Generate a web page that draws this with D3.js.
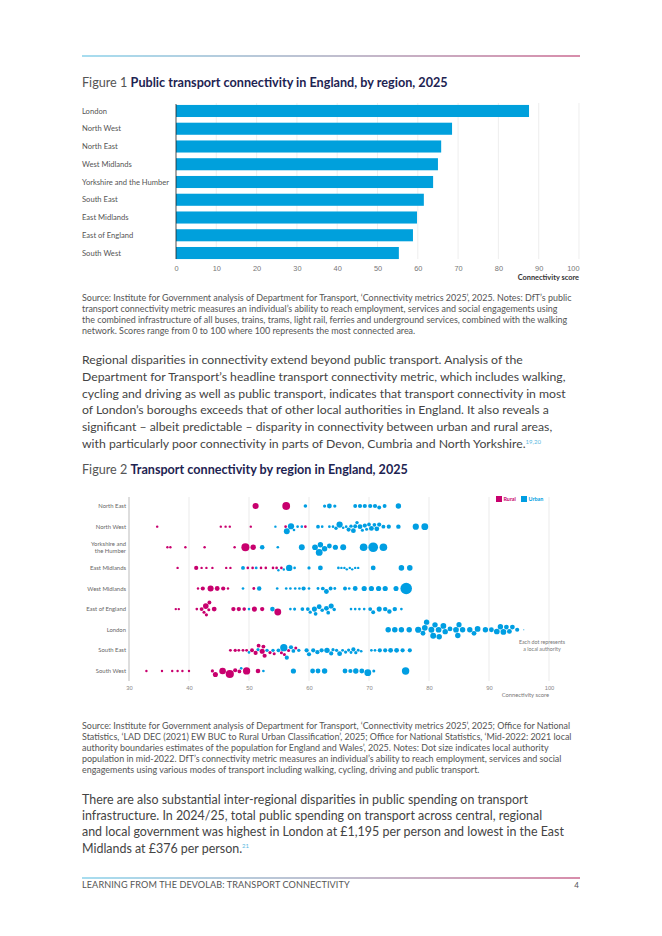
<!DOCTYPE html>
<meta charset="utf-8">
<title>Learning from the Devolab: transport connectivity</title>
<script src="https://d3js.org/d3.v7.min.js"></script>
<style>
  body { margin: 0; background: #fff; }
  svg { display: block; font-family: Lato, "Open Sans", sans-serif; }
</style>
<div id="page"></div>
<script>
  // ---- Figure 1: public transport connectivity by region ----
  const regions1 = ["London", "North West", "North East", "West Midlands", "Yorkshire and the Humber",
    "South East", "East Midlands", "East of England", "South West"];
  const scores1 = [87.6, 68.5, 65.8, 65.0, 63.8, 61.5, 59.8, 58.8, 55.3];
  const ticks1 = [0, 10, 20, 30, 40, 50, 60, 70, 80, 90, 100];

  // ---- Figure 2: transport connectivity of local authorities ----
  const regions2 = ["North East", "North West", "Yorkshire and the Humber", "East Midlands", "West Midlands",
    "East of England", "London", "South East", "South West"];
  const ticks2 = [30, 40, 50, 60, 70, 80, 90, 100];
  // [score, R = rural / U = urban, population in thousands]
  const northEast = [[51.1,"R",320],[56.2,"R",520],[59.4,"U",110],[62.6,"U",90],[63.4,"U",200],[64.3,"U",90],
    [67.7,"U",130],[68.5,"U",150],[69.3,"U",150],[70.2,"U",150],[71.0,"U",150],[71.7,"U",130],[72.6,"U",130],[74.9,"U",250]];
  const northWest = [[34.7,"R",50],[45.3,"R",50],[46.1,"R",50],[46.8,"R",50],[50.3,"R",50],[56.1,"R",60],[59.4,"R",60],
    [54.4,"U",50],[56.3,"U",300],[57.0,"U",330],[57.5,"U",60],[58.1,"U",60],[58.8,"U",60],[61.5,"U",120],[62.2,"U",60],
    [63.4,"U",60],[64.0,"U",60],[64.5,"U",100],[65.1,"U",330],[65.7,"U",60],[66.2,"U",60],[66.6,"U",150],[67.0,"U",100],
    [67.4,"U",200],[67.7,"U",130],[68.0,"U",100],[68.5,"U",200],[68.9,"U",80],[69.3,"U",150],[69.6,"U",80],[70.0,"U",120],
    [70.4,"U",200],[70.9,"U",120],[71.3,"U",200],[71.7,"U",150],[72.4,"U",130],[73.3,"U",150],[74.9,"U",170],[77.8,"U",330],[79.3,"U",400]];
  const yorkshire = [[36.4,"R",50],[36.9,"R",50],[39.4,"R",50],[42.6,"R",50],[47.6,"R",50],[49.4,"R",550],[50.7,"R",250],
    [52.2,"U",180],[54.8,"U",60],[58.8,"U",300],[61.0,"U",280],[61.7,"U",400],[61.9,"U",250],[62.6,"U",250],[63.4,"U",200],
    [64.4,"U",230],[65.7,"U",300],[69.1,"U",500],[70.7,"U",800],[72.4,"U",500]];
  const eastMidlands = [[38.1,"R",50],[41.2,"R",150],[42.1,"R",50],[42.9,"R",50],[43.9,"R",50],[46.2,"R",50],[46.9,"R",50],
    [49.8,"R",60],[50.6,"R",60],[52.0,"R",60],[52.8,"R",60],[54.0,"R",60],[54.6,"R",60],[55.4,"R",60],
    [49.0,"U",130],[51.2,"U",70],[54.9,"U",50],[55.8,"U",50],[56.7,"U",350],[57.6,"U",60],[60.0,"U",90],[61.9,"U",200],
    [64.9,"U",60],[65.4,"U",50],[65.9,"U",50],[66.3,"U",50],[66.8,"U",50],[67.2,"U",50],[67.7,"U",50],[68.2,"U",50],
    [70.7,"U",200],[75.4,"U",260],[76.8,"U",260]];
  const westMidlands = [[41.5,"R",50],[42.3,"R",150],[43.6,"R",320],[44.7,"R",200],[45.7,"R",150],[46.5,"R",50],[50.8,"R",70],
    [49.0,"U",60],[51.7,"U",170],[54.7,"U",60],[56.2,"U",60],[56.9,"U",60],[57.7,"U",60],[58.4,"U",60],[59.1,"U",150],
    [60.0,"U",60],[61.5,"U",70],[62.3,"U",120],[62.9,"U",200],[63.6,"U",130],[64.3,"U",70],[66.0,"U",130],[66.7,"U",60],
    [67.7,"U",200],[69.2,"U",230],[70.4,"U",230],[71.6,"U",230],[72.7,"U",230],[74.5,"U",220],[76.2,"U",1150]];
  const eastEngland = [[37.8,"R",50],[38.3,"R",50],[41.3,"R",60],[42.1,"R",130],[42.5,"R",80],[42.8,"R",270],[42.9,"R",90],
    [43.3,"R",80],[43.4,"R",130],[44.2,"R",200],[47.4,"R",160],[48.3,"R",160],[49.2,"R",110],[50.9,"R",220],[52.2,"R",160],[54.8,"R",400],
    [50.0,"U",60],[53.9,"U",180],[56.9,"U",60],[57.6,"U",80],[58.9,"U",120],[59.8,"U",120],[60.2,"U",90],[60.9,"U",220],
    [61.1,"U",120],[61.7,"U",200],[62.2,"U",110],[62.9,"U",200],[63.2,"U",120],[63.7,"U",220],[64.2,"U",100],[67.0,"U",60],
    [67.7,"U",60],[68.4,"U",60],[69.2,"U",60],[70.2,"U",130],[70.7,"U",130],[71.7,"U",220],[72.7,"U",170],[73.4,"U",170],
    [74.3,"U",170],[75.4,"U",60]];
  const london = [[73.2,"U",250],[74.3,"U",260],[75.4,"U",250],[76.7,"U",250],[78.2,"U",330],[79.0,"U",200],[79.3,"U",280],
    [79.6,"U",250],[80.4,"U",300],[80.7,"U",300],[81.0,"U",250],[81.6,"U",280],[81.7,"U",250],[82.4,"U",280],[82.7,"U",250],
    [83.5,"U",200],[84.5,"U",280],[84.8,"U",250],[85.0,"U",230],[85.6,"U",250],[86.8,"U",250],[87.5,"U",200],[88.1,"U",280],
    [89.4,"U",250],[90.4,"U",200],[91.3,"U",280],[91.9,"U",250],[92.4,"U",280],[92.9,"U",200],[93.4,"U",200],[93.9,"U",200],
    [94.7,"U",150],[95.8,"U",10]];
  const southEast = [[46.9,"R",70],[47.7,"R",90],[48.3,"R",70],[49.0,"R",70],[49.6,"R",70],[50.5,"R",130],[51.1,"R",150],
    [51.6,"R",130],[52.2,"R",220],[52.4,"R",130],[52.6,"R",150],[53.5,"R",90],[54.2,"R",80],[55.4,"R",80],[55.9,"R",80],
    [56.6,"R",80],[57.8,"R",80],
    [50.0,"U",60],[51.5,"U",90],[53.0,"U",100],[54.0,"U",100],[54.9,"U",120],[55.8,"U",450],[56.3,"U",150],[57.0,"U",150],
    [57.4,"U",120],[58.3,"U",100],[59.6,"U",150],[60.0,"U",150],[60.7,"U",150],[61.4,"U",150],[62.1,"U",150],[63.0,"U",250],
    [63.7,"U",150],[64.0,"U",90],[64.6,"U",90],[65.1,"U",200],[65.6,"U",70],[66.1,"U",90],[66.6,"U",90],[67.0,"U",70],
    [67.4,"U",150],[67.8,"U",90],[68.2,"U",70],[68.7,"U",60],[70.4,"U",60],[71.0,"U",60],[71.8,"U",150],[72.7,"U",150],
    [73.6,"U",200],[74.6,"U",200],[75.6,"U",150],[76.8,"U",150]];
  const southWest = [[32.9,"R",50],[35.5,"R",50],[37.2,"R",50],[38.1,"R",50],[38.9,"R",50],[40.0,"R",50],[43.9,"R",90],
    [44.4,"R",220],[45.6,"R",380],[46.8,"R",570],[47.7,"R",150],[48.4,"R",120],[49.6,"R",450],[51.5,"R",180],
    [48.7,"U",60],[52.4,"U",60],[57.4,"U",230],[60.6,"U",200],[61.5,"U",200],[62.6,"U",250],[66.0,"U",200],[66.9,"U",150],
    [67.8,"U",250],[68.8,"U",200],[69.8,"U",400],[70.8,"U",80],[76.1,"U",470]];
  const authorities = [northEast, northWest, yorkshire, eastMidlands, westMidlands, eastEngland, london, southEast, southWest];

  // ---- page text ----
  const source1 = [
    "Source: Institute for Government analysis of Department for Transport, ‘Connectivity metrics 2025’, 2025. Notes: DfT’s public",
    "transport connectivity metric measures an individual’s ability to reach employment, services and social engagements using",
    "the combined infrastructure of all buses, trains, trams, light rail, ferries and underground services, combined with the walking",
    "network. Scores range from 0 to 100 where 100 represents the most connected area."];
  const para1 = [
    "Regional disparities in connectivity extend beyond public transport. Analysis of the",
    "Department for Transport’s headline transport connectivity metric, which includes walking,",
    "cycling and driving as well as public transport, indicates that transport connectivity in most",
    "of London’s boroughs exceeds that of other local authorities in England. It also reveals a",
    "significant – albeit predictable – disparity in connectivity between urban and rural areas,",
    "with particularly poor connectivity in parts of Devon, Cumbria and North Yorkshire."];
  const source2 = [
    "Source: Institute for Government analysis of Department for Transport, ‘Connectivity metrics 2025’, 2025; Office for National",
    "Statistics, ‘LAD DEC (2021) EW BUC to Rural Urban Classification’, 2025; Office for National Statistics, ‘Mid-2022: 2021 local",
    "authority boundaries estimates of the population for England and Wales’, 2025. Notes: Dot size indicates local authority",
    "population in mid-2022. DfT’s connectivity metric measures an individual’s ability to reach employment, services and social",
    "engagements using various modes of transport including walking, cycling, driving and public transport."];
  const para2 = [
    "There are also substantial inter-regional disparities in public spending on transport",
    "infrastructure. In 2024/25, total public spending on transport across central, regional",
    "and local government was highest in London at £1,195 per person and lowest in the East",
    "Midlands at £376 per person."];

  const W = 662, H = 936;
  const rural = "#c8006e", urban = "#009ee2", navy = "#1e2452";

  const svg = d3.select("#page").append("svg")
    .attr("width", W)
    .attr("height", H);

  svg.append("rect").attr("width", W).attr("height", H).attr("fill", "#fff");

  const grad = svg.append("defs").append("linearGradient").attr("id", "rule");
  grad.append("stop").attr("offset", "0%").attr("stop-color", "#4fbbe0");
  grad.append("stop").attr("offset", "50%").attr("stop-color", "#8080a0");
  grad.append("stop").attr("offset", "100%").attr("stop-color", "#b01c58");

  svg.append("rect").attr("x", 82).attr("y", 55.5).attr("width", 498).attr("height", 1).attr("fill", "url(#rule)");
  svg.append("rect").attr("x", 82).attr("y", 877.5).attr("width", 498).attr("height", 1).attr("fill", "url(#rule)");

  // draws lines of text and scales the font so the widest line is maxW wide
  function textBlock(lines, x, y, lh, size, fill, maxW) {
    const nodes = lines.map((l, i) => svg.append("text")
      .attr("x", x)
      .attr("y", y + i * lh)
      .attr("font-size", size)
      .attr("fill", fill)
      .text(l));
    if (maxW) {
      const w = d3.max(nodes, t => t.node().getComputedTextLength());
      nodes.forEach(t => t.attr("font-size", size * maxW / w));
    }
    return nodes;
  }

  function title(fig, text, y, maxW) {
    const t = svg.append("text").attr("x", 82).attr("y", y).attr("font-size", 11);
    t.append("tspan").attr("fill", "#555").text(fig + " ");
    t.append("tspan").attr("fill", navy).attr("font-weight", "bold").text(text);
    const w = t.node().getComputedTextLength();
    t.attr("font-size", 11 * maxW / w);
  }

  title("Figure 1", "Public transport connectivity in England, by region, 2025", 87, 366);

  // ---- Figure 1 ----
  const x1 = d3.scaleLinear().domain([0, 100]).range([176, 579]);
  const y1 = d3.scaleBand().domain(regions1).range([102.1, 261.9]).paddingInner(0.32).paddingOuter(0.16);

  svg.append("g").selectAll("line")
    .data(ticks1.slice(1))
    .join("line")
    .attr("x1", d => x1(d)).attr("x2", d => x1(d))
    .attr("y1", 103).attr("y2", 259)
    .attr("stroke", "#e6e6e6").attr("stroke-width", 0.7);

  svg.append("g").selectAll("rect")
    .data(regions1)
    .join("rect")
    .attr("x", x1(0))
    .attr("y", d => y1(d))
    .attr("width", (d, i) => x1(scores1[i]) - x1(0))
    .attr("height", y1.bandwidth())
    .attr("fill", "#00a0dc");

  svg.append("line")
    .attr("x1", x1(0)).attr("x2", x1(0)).attr("y1", 104).attr("y2", 259)
    .attr("stroke", "#222").attr("stroke-width", 0.8);

  svg.append("g").selectAll("text")
    .data(regions1)
    .join("text")
    .attr("x", 82)
    .attr("y", d => y1(d) + y1.bandwidth() / 2)
    .attr("dy", "0.35em")
    .attr("font-size", 7.6)
    .attr("fill", "#555")
    .text(d => d);

  const ax1 = svg.append("g")
    .attr("transform", "translate(0,262)")
    .call(d3.axisBottom(x1).tickValues(ticks1).tickSize(0).tickPadding(4));
  ax1.select(".domain").remove();
  ax1.selectAll("text").attr("font-size", 7.4).attr("fill", "#777").attr("font-family", null);
  ax1.selectAll(".tick").filter(d => d === 100).select("text").attr("text-anchor", "end");

  svg.append("text")
    .attr("x", 579).attr("y", 280)
    .attr("text-anchor", "end")
    .attr("font-size", 7.4).attr("font-weight", "bold").attr("fill", "#333")
    .text("Connectivity score");

  textBlock(source1, 82, 301, 11, 7.5, "#555", 490);

  const p1 = textBlock(para1, 82, 364, 16.8, 12, "#444", 484);
  p1[5].append("tspan").attr("dy", -4.5).attr("font-size", 6).attr("fill", "#5ab8e0").text("19,20");

  title("Figure 2", "Transport connectivity by region in England, 2025", 474, 326);

  // ---- Figure 2 ----
  const x2 = d3.scaleLinear().domain([30, 100]).range([129, 549]);
  const y2 = d3.scaleBand().domain(regions2).range([495.7, 681.3]);
  const r2 = d3.scaleSqrt().domain([0, 1150]).range([0, 5.8]);

  svg.append("g").selectAll("line")
    .data(ticks2.slice(1))
    .join("line")
    .attr("x1", d => x2(d)).attr("x2", d => x2(d))
    .attr("y1", 497).attr("y2", 681)
    .attr("stroke", "#e2e2e2").attr("stroke-width", 0.7);
  svg.append("line")
    .attr("x1", x2(30)).attr("x2", x2(30)).attr("y1", 497).attr("y2", 681)
    .attr("stroke", "#aaa").attr("stroke-width", 0.8);

  // simple beeswarm: each dot sits as close to the row centre as it can without overlapping
  function swarm(rows) {
    const placed = [];
    rows.map(d => ({ v: d[0], t: d[1], p: d[2] }))
      .sort((a, b) => a.v - b.v)
      .forEach(d => {
        d.x = x2(d.v);
        d.r = r2(d.p);
        const cands = [0];
        placed.forEach(q => {
          const dx = d.x - q.x, s = d.r + q.r + 0.4;
          if (Math.abs(dx) < s) {
            const h = Math.sqrt(s * s - dx * dx);
            cands.push(q.y + h, q.y - h);
          }
        });
        cands.sort((a, b) => Math.abs(a) - Math.abs(b));
        d.y = cands.find(c => placed.every(q => {
          const s = d.r + q.r + 0.4;
          return (d.x - q.x) ** 2 + (c - q.y) ** 2 >= s * s - 1e-6;
        }));
        placed.push(d);
      });
    return placed;
  }

  regions2.forEach((region, i) => {
    const cy = y2(region) + y2.bandwidth() / 2;
    svg.append("g")
      .attr("transform", `translate(0,${cy})`)
      .selectAll("circle")
      .data(swarm(authorities[i]))
      .join("circle")
      .attr("cx", d => d.x)
      .attr("cy", d => d.y)
      .attr("r", d => d.r)
      .attr("fill", d => d.t === "R" ? rural : urban);

    const lab = svg.append("text")
      .attr("x", 126).attr("y", cy)
      .attr("text-anchor", "end")
      .attr("font-size", 5.9).attr("fill", "#666");
    if (region === "Yorkshire and the Humber") {
      lab.append("tspan").attr("x", 126).attr("dy", "-0.2em").text("Yorkshire and");
      lab.append("tspan").attr("x", 126).attr("dy", "1.2em").text("the Humber");
    } else {
      lab.attr("dy", "0.35em").text(region);
    }
  });

  const ax2 = svg.append("g")
    .attr("transform", "translate(0,682)")
    .call(d3.axisBottom(x2).tickValues(ticks2).tickSize(0).tickPadding(4));
  ax2.select(".domain").remove();
  ax2.selectAll("text").attr("font-size", 5.8).attr("fill", "#888").attr("font-family", null);

  svg.append("text")
    .attr("x", 549).attr("y", 697)
    .attr("text-anchor", "end")
    .attr("font-size", 5.8).attr("fill", "#777")
    .text("Connectivity score");

  const legend = [["Rural", rural], ["Urban", urban]];
  const lg = svg.append("g").selectAll("g")
    .data(legend)
    .join("g")
    .attr("transform", (d, i) => `translate(${496 + i * 25},496)`);
  lg.append("rect").attr("width", 6).attr("height", 6).attr("fill", d => d[1]);
  lg.append("text").attr("x", 7.5).attr("y", 5.2)
    .attr("font-size", 5.4).attr("font-weight", "bold")
    .attr("fill", d => d[1]).text(d => d[0]);

  svg.append("text")
    .attr("x", 542).attr("y", 644)
    .attr("text-anchor", "middle")
    .attr("font-size", 5.3).attr("fill", "#777")
    .selectAll("tspan")
    .data(["Each dot represents", "a local authority"])
    .join("tspan")
    .attr("x", 542)
    .attr("dy", (d, i) => i ? "1.3em" : 0)
    .text(d => d);

  textBlock(source2, 82, 728.5, 11.2, 7.5, "#555", 490);

  const p2 = textBlock(para2, 82, 804, 16.2, 12, "#444", 482);
  p2[3].append("tspan").attr("dy", -4.5).attr("font-size", 6).attr("fill", "#5ab8e0").text("21");

  const foot = textBlock(["LEARNING FROM THE DEVOLAB: TRANSPORT CONNECTIVITY"], 82, 888, 0, 7.6, "#555", 263);
  foot[0].attr("letter-spacing", 0.1);
  svg.append("text")
    .attr("x", 579).attr("y", 888)
    .attr("text-anchor", "end")
    .attr("font-size", 8).attr("fill", "#555")
    .text("4");
</script>
